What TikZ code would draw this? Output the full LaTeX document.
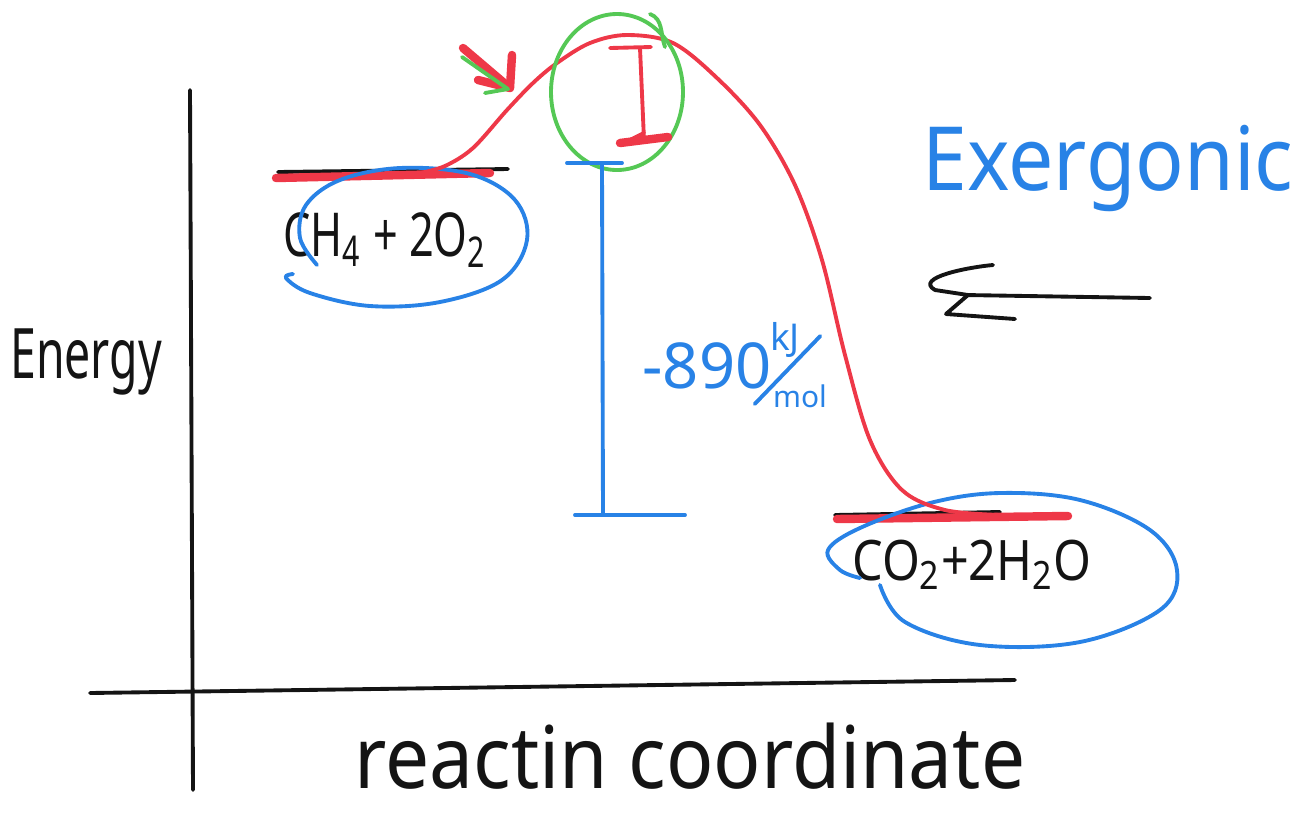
\documentclass[tikz,border=0pt]{standalone}
\usepackage{fontspec}
\setmainfont{Noto Sans}
\usepackage{graphicx}
\usepackage{xcolor}
\definecolor{pen}{RGB}{20,20,20}
\definecolor{inkred}{RGB}{238,56,72}
\definecolor{inkblue}{RGB}{40,130,230}
\definecolor{inkgreen}{RGB}{85,200,85}
\newcommand\handtall[2][1.3]{\scalebox{1}[#1]{#2}}

\begin{document}
\begin{tikzpicture}[x=0.01cm, y=-0.01cm, line cap=round, line join=round]
  \useasboundingbox (0,0) rectangle (1299,814);
  \tikzset{stroke/.style={line width=1.1pt},
           marker/.style={line width=2.4pt}}

  % Axes
  \draw[stroke, pen] (190,90) -- (193,790);
  \draw[stroke, pen] (90,693) -- (1015,680);
  \node[pen, font=\fontsize{13.2}{16}\selectfont] (energy) at (86,362) {\handtall[1.5]{Energy}};
  \node[pen, inner sep=1pt, font=\fontsize{22.3}{26}\selectfont] (xlabel) at (690,756) {\handtall[1.1]{reactin coordinate}};

  % Reactant level
  \draw[stroke, pen] (278,172) -- (508,169);
  \draw[marker, inkred] (276,178) -- (490,173);
  \node[pen, font=\fontsize{12.3}{15}\selectfont] (reactants) at (385,240) {\handtall[1.4]{CH\textsubscript{4} + 2O\textsubscript{2}}};
  \draw[stroke, inkblue] plot[smooth, tension=0.6] coordinates {(317,265) (300,238) (306,205) (340,180) (400,168) (470,174) (515,200) (527,240) (502,280) (440,302) (370,306) (310,293) (286,278) (293,274)};

  % Product level
  \draw[stroke, pen] (835,515) -- (1000,512);
  \draw[marker, inkred] (837,519) -- (1068,516);
  \node[pen, font=\fontsize{13.8}{16}\selectfont] (products) at (972,565) {\handtall[1.15]{CO\textsubscript{2}+2H\textsubscript{2}O}};
  \draw[stroke, inkblue] plot[smooth, tension=0.6] coordinates {(880,585) (905,622) (980,645) (1080,642) (1160,610) (1177,570) (1150,530) (1080,500) (1000,493) (930,503) (860,528) (828,550) (840,570) (860,578)};

  % Energy profile
  \draw[stroke, inkred] plot[smooth, tension=0.55] coordinates {(420,173) (445,166) (473,148) (507,110) (533,83) (557,63) (590,43) (627,35) (673,43) (717,78) (760,125) (795,185) (822,260) (845,355) (870,440) (902,490) (945,510) (1000,515)};

  % Transition state
  \draw[stroke, inkgreen] (617,92) ellipse [x radius=66, y radius=78];
  \draw[stroke, inkgreen] (650,14) to[out=-20, in=110] (665,47);
  \draw[stroke, inkred] (610,48) -- (651,47);
  \draw[stroke, inkred] (640,48) -- (644,140);
  \draw[marker, inkred] (620,143) -- (668,137);
  \draw[stroke, inkred] (628,141) -- (644,133);

  % Pointer at the barrier
  \draw[marker, inkred] (463,48) -- (510,88);
  \draw[marker, inkred] (478,80) -- (510,88) -- (512,55);
  \draw[stroke, inkgreen] (462,57) -- (508,89) -- (485,93);

  % Enthalpy change
  \draw[stroke, inkblue] (567,163) -- (622,163);
  \draw[stroke, inkblue] (602,163) -- (603,515);
  \draw[stroke, inkblue] (575,515) -- (685,515);
  \node[inkblue, font=\fontsize{18}{20}\selectfont, anchor=west] (dh) at (630,366) {-890};
  \node[inkblue, font=\fontsize{10.5}{12}\selectfont] (kj) at (785,340) {kJ};
  \node[inkblue, font=\fontsize{8.5}{10}\selectfont] (mol) at (800,396) {mol};
  \draw[stroke, inkblue] (mol.west) ++(-6,8) -- ([shift={(8,-4)}]kj.east);

  % Exergonic note
  \node[inkblue, font=\fontsize{22.9}{26}\selectfont] (exergonic) at (1108,168) {\handtall[1.1]{Exergonic}};
  \draw[stroke, pen] (1150,298) -- (965,295);
  \draw[stroke, pen] (993,265) to[out=185, in=150] (935,290) -- (968,295) -- (946,314) -- (1015,319);
\end{tikzpicture}
\end{document}
